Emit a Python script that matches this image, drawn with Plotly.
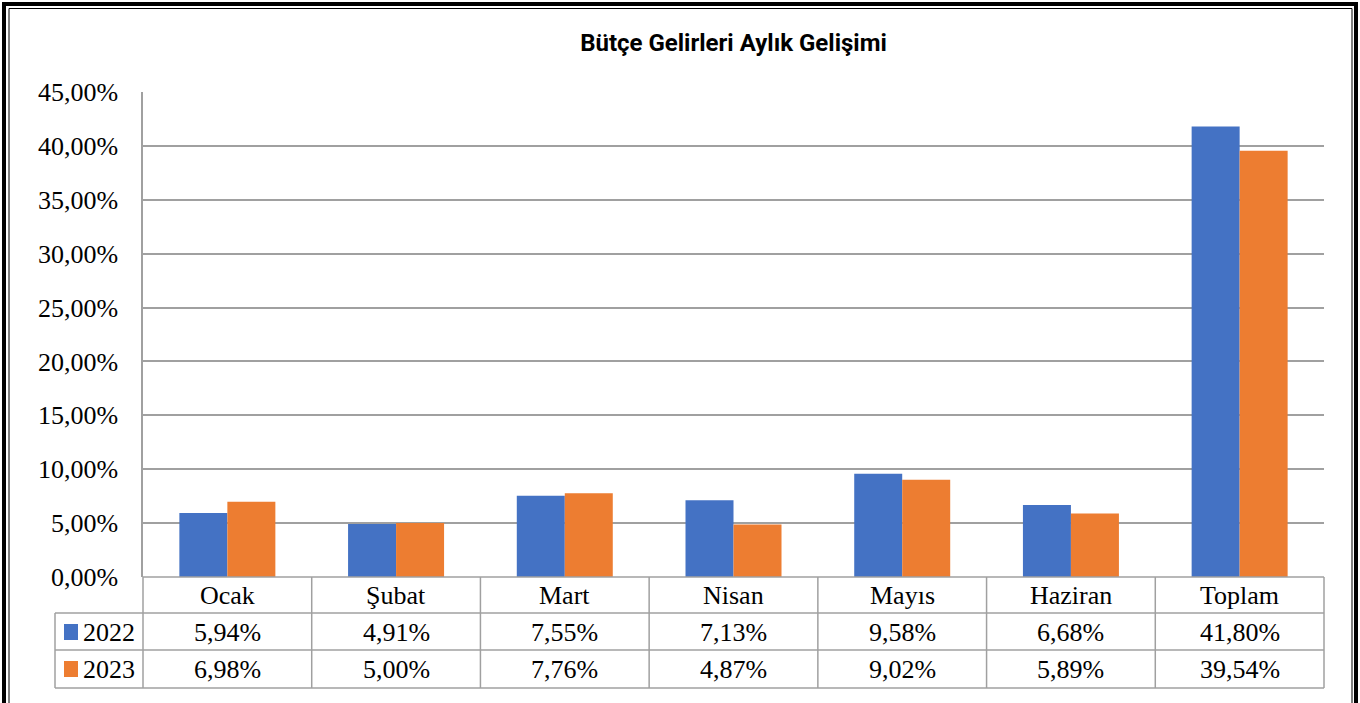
import plotly.graph_objects as go

categories = ["Ocak", "Şubat", "Mart", "Nisan", "Mayıs", "Haziran", "Toplam"]
series_names = ["2022", "2023"]
values_2022 = [5.94, 4.91, 7.55, 7.13, 9.58, 6.68, 41.80]
values_2023 = [6.98, 5.00, 7.76, 4.87, 9.02, 5.89, 39.54]
colors = ["#4472C4", "#ED7D31"]
title_text = "Bütçe Gelirleri Aylık Gelişimi"

W, H = 1360, 703
L, R, T, B = 143, 1324, 92, 577
PW, PH = R - L, B - T

def px(x):
    return (x - L) / PW

def py(y):
    return (B - y) / PH

def fmt(v):
    return f"{v:.2f}%".replace(".", ",")

fig = go.Figure()
for name, vals, col in zip(series_names, [values_2022, values_2023], colors):
    fig.add_trace(go.Bar(x=categories, y=vals, name=name, marker=dict(color=col, line=dict(width=0))))

FONT = "Liberation Serif, Times New Roman, serif"
FS = 26
grid = "#A0A0A0"
shapes = []
annotations = []

def line(x0, y0, x1, y1, color=grid, width=1.5):
    shapes.append(dict(type="line", xref="paper", yref="paper", x0=px(x0), y0=py(y0), x1=px(x1), y1=py(y1),
                       line=dict(color=color, width=width), layer="above"))

# table lines
rows = [577, 613, 650, 688]
line(L, 577, R, 577)
for yy in rows[1:]:
    line(55, yy, R, yy)
line(55, 613, 55, 688)
colw = PW / len(categories)
for i in range(len(categories) + 1):
    xx = L + i * colw
    line(xx, 577, xx, 688)

# header category labels
for c in categories:
    annotations.append(dict(x=c, xref="x", y=py(595), yref="paper", text=c, showarrow=False,
                            font=dict(family=FONT, size=FS, color="black"), xanchor="center", yanchor="middle"))
# values
for rowc, name, vals, col in zip([632, 669], series_names, [values_2022, values_2023], colors):
    for c, v in zip(categories, vals):
        annotations.append(dict(x=c, xref="x", y=py(rowc), yref="paper", text=fmt(v), showarrow=False,
                                font=dict(family=FONT, size=FS, color="black"), xanchor="center", yanchor="middle"))
    shapes.append(dict(type="rect", xref="paper", yref="paper", x0=px(64), x1=px(78), y0=py(rowc - 8), y1=py(rowc + 8),
                       fillcolor=col, line=dict(width=0)))
    annotations.append(dict(x=px(81), xref="paper", y=py(rowc), yref="paper", text=name, showarrow=False,
                            font=dict(family=FONT, size=FS, color="black"), xanchor="left", yanchor="middle"))

# outer border (double)
shapes.append(dict(type="rect", xref="paper", yref="paper", x0=px(4), x1=px(1356), y0=py(4), y1=py(740),
                   line=dict(color="black", width=4), fillcolor="rgba(0,0,0,0)"))
shapes.append(dict(type="rect", xref="paper", yref="paper", x0=px(9), x1=px(1352), y0=py(8.5), y1=py(740),
                   line=dict(color="black", width=1), fillcolor="rgba(0,0,0,0)"))

fig.update_layout(
    width=W, height=H,
    margin=dict(l=L, r=W - R, t=T, b=H - B, autoexpand=False),
    paper_bgcolor="white", plot_bgcolor="white",
    barmode="group", bargap=0.431, bargroupgap=0,
    showlegend=False,
    separators=",.",
    title=dict(text=f"<b>{title_text}</b>", x=0.5, xref="paper", xanchor="center", y=1 - 43 / H, yanchor="middle",
               font=dict(family="Roboto, DejaVu Sans Condensed, sans-serif", size=24, color="black")),
    xaxis=dict(showticklabels=False, showgrid=False, zeroline=False, showline=False, ticks=""),
    yaxis=dict(range=[0, 45], dtick=5, tickformat=".2f", ticksuffix="%", showgrid=True, gridcolor=grid, gridwidth=1.5,
               zeroline=False, showline=True, linecolor=grid, linewidth=1.5, ticks="", ticklabelstandoff=18,
               tickfont=dict(family=FONT, size=FS, color="black")),
    shapes=shapes, annotations=annotations,
)

fig.write_html("out.html", config={"displayModeBar": False},
               post_script="document.body.style.margin='0';document.body.style.overflow='hidden';")
